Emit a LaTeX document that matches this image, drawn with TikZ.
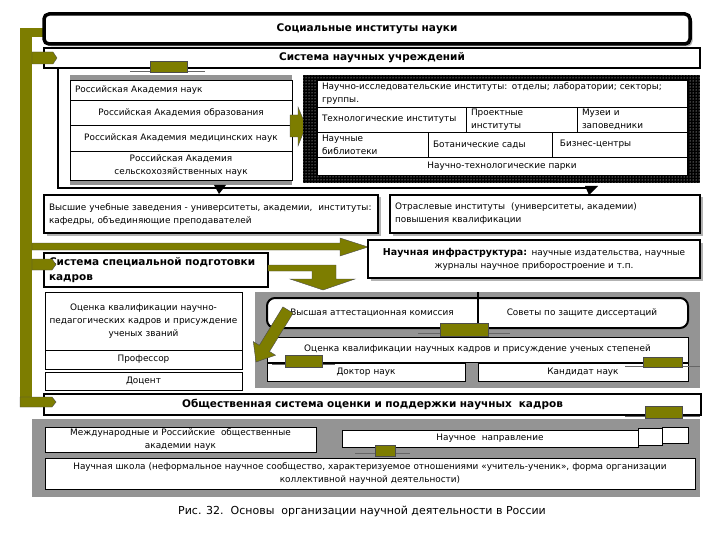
\documentclass[tikz,border=0pt]{standalone}
\usepackage{fontspec}
\setmainfont{DejaVu Sans}
\usetikzlibrary{patterns,shadows}
\definecolor{oliv}{RGB}{125,125,0}
\tikzset{
  cellbox/.style={draw,line width=0.7pt,fill=white,inner sep=0pt,align=center,font=\fontsize{8.9}{13}\selectfont},
  lft/.style={align=left},
  heavy/.style={line width=2.6pt},
  titlefont/.style={font=\bfseries\fontsize{10.5}{15}\selectfont},
  hatch/.style={fill=black!42},
  oliveshape/.style={fill=oliv,draw=black!70,line width=0.4pt},
  tabline/.style={draw=black!60,line width=0.9pt},
  dshadow/.style={drop shadow={shadow xshift=2.5pt,shadow yshift=-2.5pt,fill=black!30,opacity=1}},
  plain/.style={inner sep=0pt,font=\fontsize{8.9}{13}\selectfont},
}
\newcommand\mycell[7][]{%
  \pgfmathsetmacro\cw{#5-#3}\pgfmathsetmacro\ch{#6-#4}%
  \pgfmathsetmacro\tw{#5-#3-10}%
  \node[cellbox,minimum width=\cw pt,minimum height=\ch pt,text width=\tw pt,#1] (#2) at ({(#3+#5)/2},{(#4+#6)/2}) {#7};}
\begin{document}
\begin{tikzpicture}[x=1pt,y=-1pt]
\useasboundingbox[fill=white] (0,0) rectangle (720,540);

% olive spine
\fill[oliv] (20,28) rectangle (32,407);
\fill[oliv] (20,28) rectangle (46,37);

% titles
\mycell[titlefont,rounded corners=5pt,line width=3.5pt,dshadow]{soc}{44}{14}{690}{44}{Социальные институты науки}
\mycell[titlefont,line width=2.2pt]{sys}{44}{48}{700}{68}{Система научных учреждений}
\draw[oliveshape] (32,52) -- (53,52) -- (57,58) -- (53,64) -- (32,64) -- cycle;

% big frame
\draw[line width=2.6pt] (58,68) -- (58,188) -- (592,188);
\fill (585,186) -- (598,186) -- (589,195) -- cycle;

% academies
\fill[hatch] (70,75) rectangle (292,80);
\fill[hatch] (70,180) rectangle (292,185);
\mycell[lft]{ran}{70}{80}{292}{100}{Российская Академия наук}
\mycell{rao}{70}{100}{292}{125}{Российская Академия образования}
\mycell{ramn}{70}{125}{292}{151}{Российская Академия медицинских наук}
\mycell{rasn}{70}{151}{292}{180}{Российская Академия\\сельскохозяйственных наук}
\draw[tabline] (130,71.5) -- (205,71.5);
\draw[oliveshape] (150,61) rectangle (187,72);
\fill (214,185) -- (226,185) -- (219,194) -- cycle;
\draw[oliveshape] (290,115) -- (298,115) -- (298,107) -- (306,126) -- (298,146) -- (298,137) -- (290,137) -- cycle;

% institutes
\fill[black] (303,75) rectangle (700,183);
\fill[pattern=dots,pattern color=white] (303,75) rectangle (700,183);
\mycell[lft]{nii}{317}{80}{687}{107}{Научно-исследовательские институты: отделы; лаборатории; секторы;\\группы.}
\mycell[lft]{tech}{317}{107}{466}{132}{Технологические институты}
\mycell[lft]{proj}{466}{107}{577}{132}{Проектные\\институты}
\mycell[lft]{mus}{577}{107}{687}{132}{Музеи и\\заповедники}
\mycell[lft]{lib}{317}{132}{428}{157}{Научные\\библиотеки}
\mycell[lft]{bot}{428}{132}{552}{157}{Ботанические сады}
\mycell[lft]{bus}{552}{132}{687}{157}{\ Бизнес-центры}
\mycell{park}{317}{157}{687}{175}{Научно-технологические парки}

% universities
\mycell[lft,heavy,dshadow]{vuz}{44}{195}{378}{233}{Высшие учебные заведения - университеты, академии,\ \ институты:\\кафедры, объединяющие преподавателей}
\mycell[lft,heavy,dshadow]{otr}{390}{195}{700}{233}{Отраслевые институты\ \ (университеты, академии)\\повышения квалификации}

% long arrow
\draw[oliveshape] (32,243) -- (340,243) -- (340,238) -- (368,247) -- (340,256) -- (340,250) -- (32,250) -- cycle;

\mycell[heavy,dshadow]{infra}{368}{240}{700}{278}{{\bfseries\fontsize{9.5}{12}\selectfont Научная инфраструктура:} научные издательства, научные\\журналы научное приборостроение и т.п.}

% special training
\mycell[lft,heavy,titlefont]{spec}{44}{253}{268}{287}{Система специальной подготовки\\кадров}
\draw[oliveshape] (32,259) -- (52,259) -- (56,264.5) -- (52,270) -- (32,270) -- cycle;
\draw[oliveshape] (268,265) -- (336,265) -- (336,279) -- (355,279) -- (323,290) -- (290,279) -- (312,279) -- (312,271) -- (268,271) -- cycle;

% left lower panel
\mycell[text width=196pt]{ocen1}{45}{292}{242}{350}{Оценка квалификации научно-\\педагогических кадров и присуждение\\ученых званий}
\mycell{prof}{45}{350}{242}{369}{Профессор}
\mycell{doc}{45}{372}{242}{390}{Доцент}

% right lower panel
\fill[hatch] (255,292) rectangle (700,388);
\draw[line width=2pt,fill=white,rounded corners=8pt] (267,298) rectangle (688,328);
\draw[line width=1.3pt] (478,292) -- (478,328);
\node[plain] (vak) at (372,313) {Высшая аттестационная комиссия};
\node[plain] (sov) at (582,313) {Советы по защите диссертаций};
\mycell{ocen2}{267}{337}{688}{362}{Оценка квалификации научных кадров и присуждение ученых степеней}
\mycell{dokt}{267}{363}{465}{381}{Доктор наук}
\mycell{kand}{478}{363}{688}{381}{Кандидат наук}
\draw[tabline] (418,333) -- (510,333);
\draw[oliveshape] (440,323) rectangle (488,336);
\draw[tabline] (625,366) -- (700,366);
\draw[oliveshape] (643,357) rectangle (682,367);
\draw[tabline] (272,364) -- (335,364);
\draw[oliveshape] (285,355) rectangle (322,367);
\draw[oliveshape] (282.9,306.9) -- (293.1,313.1) -- (269.5,351.5) -- (275.5,355.2) -- (256,362) -- (253.3,341.6) -- (259.3,345.3) -- cycle;

% public system
\mycell[heavy,titlefont]{pub}{44}{394}{701}{415}{Общественная система оценки и поддержки научных\ \ кадров}
\draw[oliveshape] (20,397) -- (52,397) -- (56,402) -- (52,407) -- (20,407) -- cycle;
\draw[tabline] (625,416) -- (700,416);
\draw[oliveshape] (645,406) rectangle (682,418);

% bottom panel
\fill[hatch] (32,419) rectangle (700,497);
\mycell{mezh}{45}{427}{316}{452}{Международные и Российские\ \ общественные\\академии наук}
\mycell{napr}{342}{430}{638}{447}{Научное\ \ направление}
\mycell{nbA}{638}{428}{662}{445}{}
\mycell{nbB}{662}{427}{688}{443}{}
\draw[tabline] (355,453) -- (410,453);
\draw[oliveshape] (375,445) rectangle (395,456);
\mycell{shk}{45}{458}{695}{489}{Научная школа (неформальное научное сообщество, характеризуемое отношениями «учитель-ученик», форма организации\\коллективной научной деятельности)}

% caption
\node[font=\fontsize{11}{13}\selectfont] (cap) at (362,511) {Рис. 32.\ \ Основы\ \ организации научной деятельности в России};
\end{tikzpicture}
\end{document}
